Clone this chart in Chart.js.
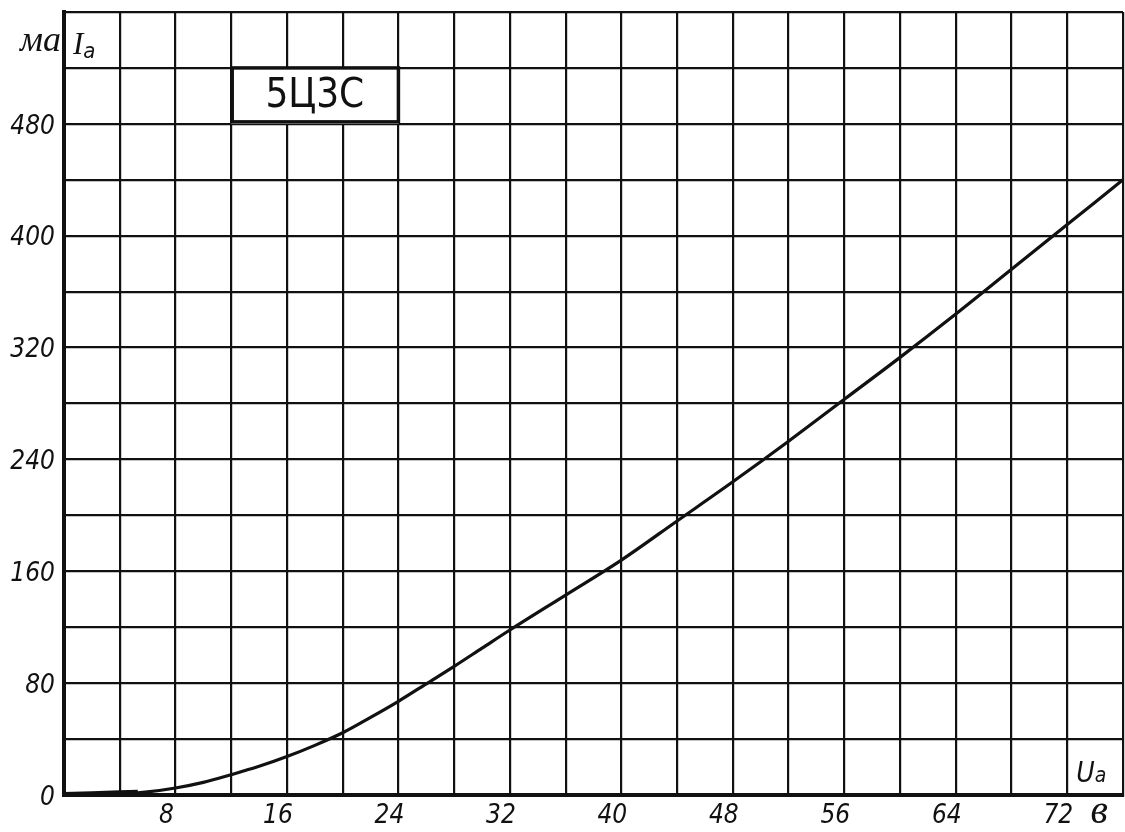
<!DOCTYPE html>
<html><head><meta charset="utf-8">
<script src="https://cdn.jsdelivr.net/npm/chart.js@4.4.1/dist/chart.umd.min.js"></script>
<style>html,body{margin:0;padding:0;background:#fff;}canvas{display:block;}</style>
</head><body>
<canvas id="c" width="1125" height="832"></canvas>
<script>
// Anode characteristic of the 5Ц3С rectifier tube
const voltages = [0, 2, 4, 5.3, 6, 8, 10, 12, 14, 16, 18, 20, 22, 24, 26, 28, 30, 32, 36, 40, 44, 48, 52, 56, 60, 64, 68, 72, 76];
const currents = [0, 0.6, 1.2, 1.6, 2.2, 5, 9, 14.5, 20.5, 27.5, 35.5, 44.5, 55.5, 67, 79.5, 92, 105, 118, 143, 168, 196, 224, 253, 283, 313, 344, 376, 408, 440];
const startVoltages = [0, 2, 4, 5.3];
const startCurrents = [0, 0.6, 1.2, 1.6];
const xTickLabels = [8, 16, 24, 32, 40, 48, 56, 64, 72];
const yTickLabels = [0, 80, 160, 240, 320, 400, 480];
const tubeName = '5Ц3С';
const yUnit = 'ма', yName = 'I', ySub = 'a';
const xName = 'U', xSub = 'a', xUnit = 'в';

const INK = '#111';
const SANS = '"DejaVu Sans Condensed", "Liberation Sans Narrow", "DejaVu Sans", sans-serif';
const SERIF = '"Liberation Serif", "DejaVu Serif", serif';

const toPts = (xs, ys) => xs.map((v, i) => ({x: v, y: ys[i]}));

const annot = {
  id: 'annot',
  afterDraw(chart) {
    const {ctx, chartArea: a, scales: {x, y}} = chart;
    ctx.save();
    // title box
    const bx0 = x.getPixelForValue(12), bx1 = x.getPixelForValue(24);
    const by0 = y.getPixelForValue(520), by1 = y.getPixelForValue(480);
    ctx.fillStyle = '#fff';
    ctx.fillRect(bx0, by0, bx1 - bx0, by1 - by0);
    ctx.lineWidth = 3.5; ctx.strokeStyle = INK;
    ctx.strokeRect(bx0 + 1, by0, bx1 - bx0 - 1, by1 - by0 - 2);
    ctx.fillStyle = INK;
    ctx.font = '40px ' + SANS;
    ctx.textAlign = 'center'; ctx.textBaseline = 'middle';
    ctx.fillText(tubeName, (bx0 + bx1) / 2, (by0 + by1) / 2 + 1);

    ctx.textBaseline = 'alphabetic';
    // y unit
    ctx.font = 'italic 36px ' + SERIF;
    ctx.textAlign = 'right';
    ctx.fillText(yUnit, a.left - 3, y.getPixelForValue(532));
    // I_a
    ctx.textAlign = 'left';
    const ix = x.getPixelForValue(0) + 9;
    const iy = y.getPixelForValue(530);
    ctx.font = 'italic 31px ' + SERIF;
    ctx.fillText(yName, ix, iy);
    const iw = ctx.measureText(yName).width;
    ctx.font = 'italic 22px ' + SANS;
    ctx.fillText(ySub, ix + iw, iy + 4);
    // U_a
    const ux = x.getPixelForValue(72) + 9;
    const uy = y.getPixelForValue(9);
    ctx.font = 'italic 28px ' + SANS;
    ctx.fillText(xName, ux, uy);
    const uw = ctx.measureText(xName).width;
    ctx.font = 'italic 21px ' + SANS;
    ctx.fillText(xSub, ux + uw, uy);
    // x unit
    ctx.font = 'italic 40px ' + SERIF;
    ctx.textAlign = 'center';
    ctx.fillText(xUnit, x.getPixelForValue(74.5) - 3, a.bottom + 28);
    ctx.restore();
  }
};

new Chart(document.getElementById('c'), {
  type: 'line',
  data: {
    datasets: [
      {data: toPts(voltages, currents), borderColor: INK, borderWidth: 3.2, pointRadius: 0,
       cubicInterpolationMode: 'monotone', fill: false},
      {data: toPts(startVoltages, startCurrents), borderColor: INK, borderWidth: 6, pointRadius: 0,
       fill: false}
    ]
  },
  options: {
    responsive: false,
    devicePixelRatio: 1,
    animation: false,
    events: [],
    layout: {padding: {top: 12, right: 2, left: 0, bottom: 0}},
    plugins: {legend: {display: false}, tooltip: {enabled: false}},
    scales: {
      x: {
        type: 'linear', min: 0, max: 76,
        afterFit(s) { s.height = 37; s.paddingLeft = 0; s.paddingRight = 0; },
        grid: {color: INK, lineWidth: 2.2, drawTicks: false},
        border: {color: INK, width: 4},
        ticks: {
          stepSize: 4, autoSkip: false, maxRotation: 0, padding: 6, labelOffset: -9,
          color: INK, font: {family: SANS, size: 26, style: 'italic'},
          callback: v => xTickLabels.includes(v) ? String(v) : ''
        }
      },
      y: {
        type: 'linear', min: 0, max: 560,
        afterFit(s) { s.width = 64; s.paddingTop = 0; s.paddingBottom = 0; },
        grid: {color: INK, lineWidth: 2.2, drawTicks: false},
        border: {color: INK, width: 4},
        ticks: {
          stepSize: 40, autoSkip: false, padding: 9, labelOffset: 3,
          color: INK, font: {family: SANS, size: 26, style: 'italic'},
          callback: v => yTickLabels.includes(v) ? String(v) : ''
        }
      }
    }
  },
  plugins: [annot]
});
</script>
</body></html>
